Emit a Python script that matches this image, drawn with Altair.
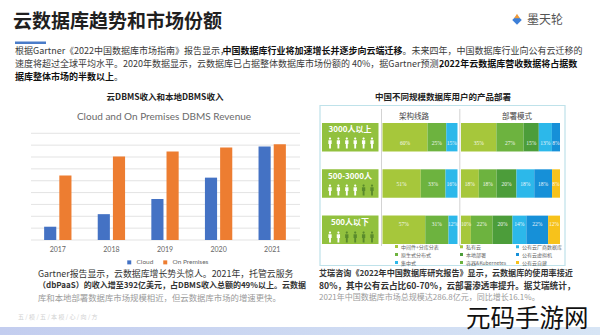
import altair as alt
import pandas as pd

CJK = "Noto Sans CJK SC"
LAT = "Lato"

# ---------------- data ----------------
years = ["2017", "2018", "2019", "2020", "2021"]
cloud_rev = [5.6, 10.9, 17.3, 26.3, 39.4]
onprem_rev = [27.2, 35.2, 37.3, 39.0, 40.4]
rev_series = ["Cloud", "On Premises"]
rev_colors = ["#4472C4", "#ED7D31"]
grid_values = [0, 5, 10, 15, 20, 25, 30, 35, 40, 45]

sizes = ["3000人以上", "500-3000人", "500人以下"]
white_icons = [6, 4, 2]
arch_cats = ["中间件+分库分表", "原生式分布式", "集中式"]
arch_colors = ["#A6C73B", "#6DB33F", "#2CB8EA"]
arch_vals = [[60, 25, 15], [51, 33, 16], [57, 31, 12]]
deploy_cats = ["私有云", "容器&Kubernetes", "本地部署", "公有云厂商数据库", "公有云虚拟机", "公有云自建"]
deploy_colors = ["#A6C73B", "#6DB33F", "#4C9D3A", "#2CB8EA", "#1690D8", "#F7C21B"]
deploy_vals = [[35, 27, 15, 13, 8, 0], [18, 18, 20, 18, 18, 8], [10, 22, 20, 14, 22, 12]]
deploy_legend_order = [0, 2, 1, 3, 4, 5]

title_text = "云数据库趋势和市场份额"
logo_text = "墨天轮"
para_lines = [
    [("根据Gartner《2022中国数据库市场指南》报告显示，", "normal"),
     ("中国数据库行业将加速增长并逐步向云端迁移", "bold"),
     ("。未来四年，中国数据库行业向公有云迁移的", "normal")],
    [("速度将超过全球平均水平。2020年数据显示，云数据库已占据整体数据库市场份额的 40%，据Gartner预测，", "normal"),
     ("2022年云数据库营收数据将占据数", "bold")],
    [("据库整体市场的半数以上", "bold"), ("。", "normal")],
]
left_title = "云DBMS收入和本地DBMS收入"
left_subtitle = "Cloud and On Premises DBMS Revenue"
right_title = "中国不同规模数据库用户的产品部署"
col_headers = ["架构线路", "部署模式"]
left_notes = [
    ("Gartner报告显示，云数据库增长势头惊人。2021年，托管云服务", "normal", "#333333", 8.9),
    ("（dbPaaS）的收入增至392亿美元，占DBMS收入总额的49%以上。云数据", "bold", "#333333", 8.0),
    ("库和本地部署数据库市场规模相近，但云数据库市场的增速更快。", "normal", "#9a9a9a", 8.4),
]
right_notes = [
    ("艾瑞咨询《2022年中国数据库研究报告》显示，云数据库的使用率接近", "bold", "#333333", 8.1),
    ("80%，其中公有云占比60-70%，云部署渗透率提升。据艾瑞统计，", "bold", "#333333", 8.6),
    ("2021年中国数据库市场总规模达286.8亿元，同比增长16.1%。", "normal", "#9a9a9a", 8.0),
]
footer_text = "五 / 模 / 五 / 本      模 / 心 / 向 / 方"
watermark = "元码手游网"

PERSON = ("M0,-1 A0.2,0.2 0 1,1 0,-0.6 A0.2,0.2 0 1,1 0,-1 Z "
          "M-0.3,-0.52 L0.3,-0.52 L0.3,0.2 L0.17,0.2 L0.17,1 L-0.17,1 L-0.17,0.2 L-0.3,0.2 Z")


def est_w(s, size):
    w = 0.0
    for ch in s:
        o = ord(ch)
        if o > 0x2E80:
            w += 1.0
        elif ch.isdigit():
            w += 0.5
        elif ch in "ilrtfj":
            w += 0.32
        elif ch.isupper():
            w += 0.6
        elif ch == " ":
            w += 0.22
        elif ch == "%":
            w += 0.82
        elif ch in ".,":
            w += 0.25
        elif ch in "-()":
            w += 0.31
        else:
            w += 0.5
    return w * size


def txt(s, x, y, size=9, color="#333333", weight="normal", align="left", font=CJK, opacity=1.0):
    return alt.Chart(pd.DataFrame({"t": [s]})).mark_text(
        align=align, baseline="middle", fontSize=size, color=color,
        fontWeight=weight, font=font, opacity=opacity
    ).encode(x=alt.value(x), y=alt.value(y), text="t:N")


layers = []

# --------------- header ---------------
layers.append(txt(title_text, 13, 22, size=19, color="#1f1f1f", weight="bold"))
layers.append(alt.Chart(pd.DataFrame({"a": [1]})).mark_rect(color="#4A7CC9").encode(
    x=alt.value(15), x2=alt.value(46), y=alt.value(41.5), y2=alt.value(44)))
# logo
layers.append(alt.Chart(pd.DataFrame({"a": [1]})).mark_point(
    shape="diamond", filled=True, size=90, color="#3D7FD8", opacity=1).encode(
    x=alt.value(517), y=alt.value(20)))
layers.append(alt.Chart(pd.DataFrame({"a": [1]})).mark_point(
    shape="triangle-up", filled=True, size=30, color="#F29B38", opacity=1).encode(
    x=alt.value(517), y=alt.value(16)))
layers.append(txt(logo_text, 527, 20, size=12, color="#555555"))

PARA_SIZE = 9
for li, segs in enumerate(para_lines):
    x = 15.0
    for s, wt in segs:
        layers.append(txt(s, x, 51 + 13 * li, size=PARA_SIZE,
                          color="#111111" if wt == "bold" else "#3a3a3a", weight=wt))
        x += est_w(s, PARA_SIZE)

# --------------- left chart ---------------
layers.append(txt(left_title, 165, 97, size=8.5, color="#222222", weight="bold", align="center"))
layers.append(txt(left_subtitle, 164, 117, size=10, color="#6a6a6a", align="center", font=LAT))

yscale_rev = alt.Scale(domain=[0, 45], range=[240, 133.3], nice=False, zero=True)
layers.append(alt.Chart(pd.DataFrame({"g": grid_values})).mark_rule(
    color="#dcdcdc", strokeWidth=0.8).encode(
    y=alt.Y("g:Q", scale=yscale_rev, axis=None),
    x=alt.value(31), x2=alt.value(300)))

rev_df = pd.DataFrame({
    "year": years * 2,
    "series": [rev_series[0]] * len(years) + [rev_series[1]] * len(years),
    "value": cloud_rev + onprem_rev,
})
layers.append(alt.Chart(rev_df).mark_bar().encode(
    x=alt.X("year:N", scale=alt.Scale(domain=years, range=[31, 299], paddingInner=0.49, paddingOuter=0.245),
            axis=alt.Axis(title=None, offset=-95, domain=False, ticks=False, labelPadding=5,
                          labelFontSize=7, labelColor="#666666", labelFont=LAT, labelAngle=0)),
    xOffset=alt.XOffset("series:N", scale=alt.Scale(domain=rev_series, paddingInner=0.2)),
    y=alt.Y("value:Q", scale=yscale_rev, axis=None),
    color=alt.Color("series:N", scale=alt.Scale(domain=rev_series, range=rev_colors),
                    legend=alt.Legend(orient="none", legendX=126, legendY=259, direction="horizontal",
                                      title=None, symbolType="square", symbolSize=16,
                                      labelFontSize=6.5, labelColor="#666666", labelFont=LAT,
                                      columnPadding=8, symbolStrokeWidth=0)),
))

# --------------- right panel ---------------
layers.append(txt(right_title, 443, 97, size=8.5, color="#222222", weight="bold", align="center"))
layers.append(alt.Chart(pd.DataFrame({"a": [1]})).mark_rect(
    filled=False, stroke="#bfe2ea", strokeWidth=1.2).encode(
    x=alt.value(320), x2=alt.value(565), y=alt.value(105.5), y2=alt.value(265.5)))
layers.append(txt(col_headers[0], 414, 117, size=7.5, color="#444444", align="center"))
layers.append(txt(col_headers[1], 517, 117, size=7.5, color="#444444", align="center"))
for xv in [381.5, 459.8]:
    layers.append(alt.Chart(pd.DataFrame({"a": [1]})).mark_rule(color="#c8c8c8", strokeWidth=0.8).encode(
        x=alt.value(xv), y=alt.value(109), y2=alt.value(246)))

ys_rows = alt.Scale(domain=sizes, range=[123, 244], paddingInner=0.387, paddingOuter=0)

# row label boxes
layers.append(alt.Chart(pd.DataFrame({"size": sizes})).mark_bar(color="#92C13E").encode(
    y=alt.Y("size:N", scale=ys_rows, axis=None), x=alt.value(322), x2=alt.value(378.5)))
layers.append(alt.Chart(pd.DataFrame({"size": sizes})).mark_text(
    color="white", fontSize=8, fontWeight="bold", font=CJK, baseline="middle").encode(
    y=alt.Y("size:N", scale=alt.Scale(type="point", domain=sizes, range=[130, 223], padding=0), axis=None),
    x=alt.value(350), text="size:N"))

icon_rows = []
for s, w in zip(sizes, white_icons):
    for k in range(6):
        icon_rows.append({"size": s, "k": k, "tone": "light" if k < w else "dark"})
layers.append(alt.Chart(pd.DataFrame(icon_rows)).mark_point(
    shape=PERSON, filled=True, size=120, opacity=1, strokeWidth=0).encode(
    x=alt.X("k:O", scale=alt.Scale(type="point", range=[330, 372], padding=0), axis=None),
    y=alt.Y("size:N", scale=alt.Scale(type="point", domain=sizes, range=[143, 237], padding=0), axis=None),
    color=alt.Color("tone:N", scale=alt.Scale(domain=["light", "dark"], range=["#ffffff", "#5A8A2C"]),
                    legend=None)))

# architecture stacked bars
arch_df = pd.DataFrame([{"size": s, "cat": c, "idx": j, "value": arch_vals[i][j]}
                        for i, s in enumerate(sizes) for j, c in enumerate(arch_cats)])
xs_arch = alt.Scale(domain=[0, 1], range=[382.5, 457.5], nice=False, zero=False)
arch_base = alt.Chart(arch_df).transform_filter("datum.value > 0").transform_stack(
    stack="value", groupby=["size"], as_=["v0", "v1"], offset="normalize",
    sort=[alt.SortField(field="idx", order="ascending")]
).transform_calculate(mid="(datum.v0 + datum.v1) / 2", lbl="datum.value + '%'")
layers.append(arch_base.mark_bar().encode(
    x=alt.X("v0:Q", scale=xs_arch, axis=None), x2="v1:Q",
    y=alt.Y("size:N", scale=ys_rows, axis=None),
    color=alt.Color("cat:N", scale=alt.Scale(domain=arch_cats, range=arch_colors),
                    legend=alt.Legend(orient="none", legendX=394, legendY=244, direction="vertical",
                                      title=None, symbolType="square", symbolSize=9,
                                      labelFontSize=5, labelColor="#666666", labelFont=CJK,
                                      rowPadding=2, symbolStrokeWidth=0, labelOffset=2))))
layers.append(arch_base.mark_text(color="white", fontSize=5.5, font="Liberation Serif", opacity=0.9).encode(
    x=alt.X("mid:Q", scale=xs_arch, axis=None),
    y=alt.Y("size:N", scale=ys_rows, axis=None), text="lbl:N"))

# deployment stacked bars
dep_df = pd.DataFrame([{"size": s, "cat": c, "idx": j, "value": deploy_vals[i][j]}
                       for i, s in enumerate(sizes) for j, c in enumerate(deploy_cats)])
xs_dep = alt.Scale(domain=[0, 1], range=[461, 560], nice=False, zero=False)
dep_legend_dom = [deploy_cats[k] for k in deploy_legend_order]
dep_legend_rng = [deploy_colors[k] for k in deploy_legend_order]
dep_base = alt.Chart(dep_df).transform_filter("datum.value > 0").transform_stack(
    stack="value", groupby=["size"], as_=["v0", "v1"], offset="normalize",
    sort=[alt.SortField(field="idx", order="ascending")]
).transform_calculate(mid="(datum.v0 + datum.v1) / 2", lbl="datum.value + '%'")
layers.append(dep_base.mark_bar().encode(
    x=alt.X("v0:Q", scale=xs_dep, axis=None), x2="v1:Q",
    y=alt.Y("size:N", scale=ys_rows, axis=None),
    color=alt.Color("cat:N", scale=alt.Scale(domain=dep_legend_dom, range=dep_legend_rng),
                    legend=alt.Legend(orient="none", legendX=459, legendY=244, columns=2,
                                      title=None, symbolType="square", symbolSize=9,
                                      labelFontSize=5, labelColor="#666666", labelFont=CJK,
                                      rowPadding=2, columnPadding=8, symbolStrokeWidth=0,
                                      labelOffset=2))))
layers.append(dep_base.mark_text(color="white", fontSize=5.5, font="Liberation Serif", opacity=0.9).encode(
    x=alt.X("mid:Q", scale=xs_dep, axis=None),
    y=alt.Y("size:N", scale=ys_rows, axis=None), text="lbl:N"))

# --------------- notes ---------------
for i, (s, wt, col, fs) in enumerate(left_notes):
    layers.append(txt(s, 38, 273.5 + 12.2 * i, size=fs, color=col, weight=wt))
for i, (s, wt, col, fs) in enumerate(right_notes):
    layers.append(txt(s, 319, 273.5 + 12.2 * i, size=fs, color=col, weight=wt))

# --------------- footer ---------------
layers.append(txt(footer_text, 18, 317, size=6, color="#d2d2d2"))
grad = alt.LinearGradient(gradient="linear",
                          stops=[alt.GradientStop(color="#c3cdef", offset=0),
                                 alt.GradientStop(color="#d7e5f5", offset=1)],
                          x1=0, x2=1, y1=0, y2=0)
layers.append(alt.Chart(pd.DataFrame({"a": [1]})).mark_rect(color=grad).encode(
    x=alt.value(0), x2=alt.value(600), y=alt.value(327), y2=alt.value(335)))
layers.append(txt(watermark, 466, 320, size=24.5, color="#111111"))

chart = alt.layer(*layers).properties(
    width=600, height=335, padding=0,
    autosize=alt.AutoSizeParams(type="none"),
).resolve_scale(
    x="independent", y="independent", color="independent", xOffset="independent"
).configure(font=CJK, background="white").configure_view(stroke=None)

chart.save("out.html", embed_options={"renderer": "svg", "actions": False})
